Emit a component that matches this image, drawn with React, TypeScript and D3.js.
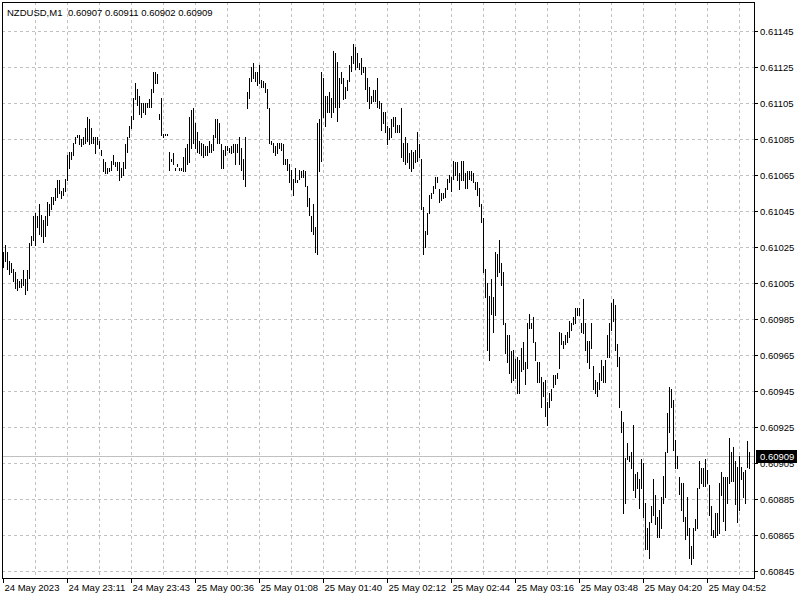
import React from 'react';
import * as d3 from 'd3';

const symbolLabel = 'NZDUSD,M1';
const lastOHLC = [0.60907, 0.60911, 0.60902, 0.60909];

const highs = [
  0.61022, 0.61026, 0.61022, 0.61017, 0.61016, 0.61013, 0.61011, 0.61007, 0.61006, 0.61007,
  0.61012, 0.61007, 0.61012, 0.61027, 0.61031, 0.61042, 0.61044, 0.61042, 0.61049, 0.61043,
  0.61040, 0.61042, 0.61050, 0.61049, 0.61053, 0.61053, 0.61058, 0.61062, 0.61062, 0.61056,
  0.61058, 0.61063, 0.61076, 0.61078, 0.61078, 0.61083, 0.61086, 0.61087, 0.61087, 0.61085,
  0.61086, 0.61091, 0.61097, 0.61096, 0.61091, 0.61086, 0.61086, 0.61086, 0.61084, 0.61079,
  0.61074, 0.61072, 0.61069, 0.61069, 0.61073, 0.61076, 0.61072, 0.61072, 0.61072, 0.61069,
  0.61072, 0.61082, 0.61086, 0.61092, 0.61098, 0.61108, 0.61116, 0.61113, 0.61109, 0.61105,
  0.61105, 0.61105, 0.61105, 0.61107, 0.61113, 0.61122, 0.61122, 0.61121, 0.61099, 0.61108,
  0.61088, 0.61088, 0.61088, 0.61078, 0.61074, 0.61077, 0.61069, 0.61071, 0.61069, 0.61069,
  0.61075, 0.61080, 0.61082, 0.61097, 0.61101, 0.61102, 0.61094, 0.61089, 0.61084, 0.61083,
  0.61082, 0.61081, 0.61081, 0.61084, 0.61082, 0.61087, 0.61096, 0.61096, 0.61094, 0.61082,
  0.61079, 0.61081, 0.61081, 0.61080, 0.61081, 0.61082, 0.61082, 0.61082, 0.61086, 0.61080,
  0.61074, 0.61086, 0.61111, 0.61119, 0.61125, 0.61127, 0.61122, 0.61122, 0.61126, 0.61118,
  0.61117, 0.61116, 0.61113, 0.61102, 0.61084, 0.61083, 0.61081, 0.61083, 0.61083, 0.61083,
  0.61082, 0.61074, 0.61074, 0.61071, 0.61068, 0.61063, 0.61069, 0.61062, 0.61068, 0.61067,
  0.61068, 0.61067, 0.61059, 0.61052, 0.61042, 0.61049, 0.61036, 0.61094, 0.61096, 0.61122,
  0.61119, 0.61109, 0.61109, 0.61111, 0.61108, 0.61134, 0.61133, 0.61128, 0.61119, 0.61122,
  0.61119, 0.61114, 0.61118, 0.61126, 0.61131, 0.61138, 0.61136, 0.61133, 0.61127, 0.61130,
  0.61125, 0.61125, 0.61119, 0.61114, 0.61109, 0.61112, 0.61112, 0.61119, 0.61106, 0.61105,
  0.61100, 0.61100, 0.61092, 0.61091, 0.61096, 0.61097, 0.61097, 0.61093, 0.61093, 0.61102,
  0.61083, 0.61086, 0.61083, 0.61077, 0.61079, 0.61078, 0.61079, 0.61089, 0.61082, 0.61074,
  0.61047, 0.61034, 0.61044, 0.61054, 0.61055, 0.61059, 0.61064, 0.61064, 0.61057, 0.61055,
  0.61055, 0.61058, 0.61063, 0.61065, 0.61064, 0.61073, 0.61072, 0.61072, 0.61066, 0.61073,
  0.61073, 0.61066, 0.61067, 0.61067, 0.61067, 0.61066, 0.61061, 0.61061, 0.61058, 0.61049,
  0.61041, 0.61013, 0.61005, 0.60998, 0.61007, 0.60997, 0.61022, 0.61021, 0.61029, 0.61016,
  0.61011, 0.60983, 0.60976, 0.60976, 0.60967, 0.60968, 0.60963, 0.60964, 0.60962, 0.60969,
  0.60972, 0.60961, 0.60983, 0.60988, 0.60983, 0.60986, 0.60972, 0.60961, 0.60961, 0.60953,
  0.60950, 0.60951, 0.60939, 0.60944, 0.60946, 0.60954, 0.60954, 0.60955, 0.60978, 0.60977,
  0.60973, 0.60976, 0.60978, 0.60984, 0.60983, 0.60986, 0.60991, 0.60991, 0.60991, 0.60983,
  0.60996, 0.60983, 0.60973, 0.60973, 0.60983, 0.60959, 0.60951, 0.60950, 0.60955, 0.60962,
  0.60959, 0.60962, 0.60976, 0.60983, 0.60994, 0.60996, 0.60993, 0.60971, 0.60964, 0.60934,
  0.60928, 0.60908, 0.60916, 0.60909, 0.60911, 0.60926, 0.60899, 0.60900, 0.60896, 0.60907,
  0.60905, 0.60883, 0.60869, 0.60872, 0.60881, 0.60896, 0.60887, 0.60875, 0.60879, 0.60886,
  0.60898, 0.60911, 0.60933, 0.60947, 0.60946, 0.60940, 0.60918, 0.60909, 0.60897, 0.60894,
  0.60894, 0.60875, 0.60886, 0.60869, 0.60859, 0.60869, 0.60874, 0.60891, 0.60906, 0.60902,
  0.60902, 0.60907, 0.60901, 0.60893, 0.60881, 0.60868, 0.60877, 0.60877, 0.60894, 0.60900,
  0.60897, 0.60897, 0.60897, 0.60919, 0.60911, 0.60914, 0.60906, 0.60903, 0.60909, 0.60903,
  0.60900, 0.60901, 0.60917, 0.60911,
];

const lows = [
  0.61014, 0.61017, 0.61013, 0.61010, 0.61011, 0.61006, 0.61002, 0.61001, 0.61003, 0.61003,
  0.61004, 0.60999, 0.61001, 0.61008, 0.61026, 0.61029, 0.61026, 0.61036, 0.61032, 0.61031,
  0.61028, 0.61031, 0.61037, 0.61043, 0.61046, 0.61049, 0.61051, 0.61053, 0.61055, 0.61052,
  0.61054, 0.61056, 0.61062, 0.61069, 0.61074, 0.61076, 0.61083, 0.61086, 0.61082, 0.61081,
  0.61082, 0.61083, 0.61084, 0.61082, 0.61083, 0.61083, 0.61077, 0.61082, 0.61080, 0.61076,
  0.61067, 0.61066, 0.61066, 0.61067, 0.61068, 0.61071, 0.61070, 0.61068, 0.61062, 0.61064,
  0.61065, 0.61069, 0.61078, 0.61086, 0.61091, 0.61096, 0.61107, 0.61104, 0.61099, 0.61097,
  0.61100, 0.61099, 0.61103, 0.61103, 0.61103, 0.61111, 0.61116, 0.61116, 0.61096, 0.61087,
  0.61086, 0.61087, 0.61087, 0.61068, 0.61073, 0.61071, 0.61068, 0.61070, 0.61068, 0.61068,
  0.61067, 0.61067, 0.61071, 0.61072, 0.61080, 0.61083, 0.61080, 0.61078, 0.61077, 0.61076,
  0.61075, 0.61076, 0.61076, 0.61078, 0.61078, 0.61079, 0.61086, 0.61083, 0.61083, 0.61069,
  0.61069, 0.61076, 0.61079, 0.61078, 0.61077, 0.61078, 0.61071, 0.61078, 0.61071, 0.61068,
  0.61063, 0.61059, 0.61102, 0.61108, 0.61117, 0.61119, 0.61117, 0.61115, 0.61116, 0.61114,
  0.61114, 0.61111, 0.61102, 0.61083, 0.61082, 0.61078, 0.61076, 0.61077, 0.61080, 0.61079,
  0.61071, 0.61071, 0.61068, 0.61061, 0.61057, 0.61054, 0.61061, 0.61061, 0.61063, 0.61064,
  0.61064, 0.61059, 0.61048, 0.61043, 0.61034, 0.61032, 0.61022, 0.61021, 0.61067, 0.61073,
  0.61097, 0.61092, 0.61100, 0.61100, 0.61097, 0.61100, 0.61103, 0.61095, 0.61103, 0.61116,
  0.61107, 0.61108, 0.61112, 0.61117, 0.61123, 0.61127, 0.61124, 0.61125, 0.61124, 0.61121,
  0.61122, 0.61113, 0.61106, 0.61102, 0.61105, 0.61106, 0.61106, 0.61103, 0.61102, 0.61090,
  0.61094, 0.61089, 0.61082, 0.61085, 0.61086, 0.61092, 0.61089, 0.61089, 0.61089, 0.61075,
  0.61073, 0.61071, 0.61072, 0.61069, 0.61067, 0.61069, 0.61072, 0.61073, 0.61075, 0.61046,
  0.61021, 0.61025, 0.61032, 0.61044, 0.61052, 0.61055, 0.61058, 0.61061, 0.61050, 0.61051,
  0.61052, 0.61053, 0.61057, 0.61061, 0.61056, 0.61063, 0.61065, 0.61062, 0.61057, 0.61062,
  0.61062, 0.61058, 0.61058, 0.61063, 0.61062, 0.61061, 0.61057, 0.61054, 0.61048, 0.61039,
  0.61011, 0.60997, 0.60968, 0.60962, 0.60988, 0.60978, 0.60987, 0.61009, 0.61011, 0.61004,
  0.60982, 0.60966, 0.60961, 0.60955, 0.60950, 0.60951, 0.60952, 0.60944, 0.60944, 0.60956,
  0.60957, 0.60949, 0.60958, 0.60980, 0.60980, 0.60972, 0.60962, 0.60950, 0.60950, 0.60936,
  0.60942, 0.60931, 0.60926, 0.60936, 0.60940, 0.60947, 0.60949, 0.60952, 0.60958, 0.60971,
  0.60969, 0.60971, 0.60972, 0.60975, 0.60979, 0.60982, 0.60983, 0.60987, 0.60987, 0.60978,
  0.60977, 0.60968, 0.60961, 0.60958, 0.60969, 0.60946, 0.60944, 0.60942, 0.60946, 0.60951,
  0.60950, 0.60950, 0.60964, 0.60964, 0.60979, 0.60984, 0.60968, 0.60959, 0.60936, 0.60922,
  0.60877, 0.60883, 0.60907, 0.60906, 0.60902, 0.60890, 0.60886, 0.60891, 0.60880, 0.60891,
  0.60875, 0.60857, 0.60857, 0.60852, 0.60872, 0.60876, 0.60871, 0.60864, 0.60864, 0.60869,
  0.60883, 0.60886, 0.60911, 0.60922, 0.60936, 0.60912, 0.60902, 0.60902, 0.60888, 0.60879,
  0.60873, 0.60863, 0.60865, 0.60852, 0.60849, 0.60852, 0.60868, 0.60869, 0.60891, 0.60894,
  0.60892, 0.60892, 0.60894, 0.60876, 0.60865, 0.60864, 0.60864, 0.60865, 0.60866, 0.60887,
  0.60873, 0.60868, 0.60883, 0.60894, 0.60895, 0.60895, 0.60882, 0.60872, 0.60879, 0.60896,
  0.60886, 0.60883, 0.60903, 0.60902,
];

const timeTickBars = [0, 32, 64, 96, 128, 160, 192, 224, 256, 288, 320, 352];
const timeLabels = [
  '24 May 2023', '24 May 23:11', '24 May 23:43', '25 May 00:36', '25 May 01:08', '25 May 01:40',
  '25 May 02:12', '25 May 02:44', '25 May 03:16', '25 May 03:48', '25 May 04:20', '25 May 04:52',
];
const priceTicks = [
  0.61145, 0.61125, 0.61105, 0.61085, 0.61065, 0.61045, 0.61025, 0.61005,
  0.60985, 0.60965, 0.60945, 0.60925, 0.60905, 0.60885, 0.60865, 0.60845,
];

const FONT = "'Liberation Sans', Arial, sans-serif";
const FS = 9.5;
const GRID = '#c0c0c0';

export default function App() {
  const n = highs.length;
  const frameL = 2, frameT = 2, frameR = 754, frameB = 578;
  const x = d3.scaleLinear().domain([0, n - 1]).range([3, 749]);
  const y = d3
    .scaleLinear()
    .domain([priceTicks[0], priceTicks[priceTicks.length - 1]])
    .range([31, 571]);
  const px = (i: number) => Math.round(x(i)) + 0.5;
  const py = (v: number) => Math.round(y(v));
  const gridBars = d3.range(16, n, 16);
  const fmt = d3.format('.5f');
  const close = lastOHLC[3];
  const closeY = py(close) + 0.5;

  return (
    <svg width={800} height={600} style={{ display: 'block' }} fontFamily={FONT} fontSize={FS}>
      <style>{'body{margin:0;}'}</style>
      <rect x={0} y={0} width={800} height={600} fill="#ffffff" />
      {gridBars.map((i) => (
        <line key={'vg' + i} x1={px(i)} x2={px(i)} y1={frameT} y2={frameB}
          stroke={GRID} strokeWidth={1} strokeDasharray="3,3" />
      ))}
      {priceTicks.map((p) => (
        <line key={'hg' + p} x1={frameL} x2={frameR} y1={py(p) + 0.5} y2={py(p) + 0.5}
          stroke={GRID} strokeWidth={1} strokeDasharray="3,3" />
      ))}
      <line x1={frameL} x2={frameR} y1={closeY} y2={closeY} stroke={GRID} strokeWidth={1} />
      {highs.map((h, i) => (
        <line key={'b' + i} x1={px(i)} x2={px(i)} y1={py(h)} y2={py(lows[i]) + 1}
          stroke="#000" strokeWidth={1} />
      ))}
      <rect x={frameL + 0.5} y={frameT + 0.5} width={frameR - frameL} height={frameB - frameT}
        fill="none" stroke="#000" strokeWidth={1} />
      <text x={7} y={16} fill="#000">{symbolLabel}</text>
      <text x={68} y={16} fill="#000">{lastOHLC.map(fmt).join(' ')}</text>
      {priceTicks.map((p) => (
        <g key={'pt' + p}>
          <line x1={frameR} x2={frameR + 4} y1={py(p) + 0.5} y2={py(p) + 0.5} stroke="#000" />
          <text x={760} y={py(p) + 4} fill="#000">{fmt(p)}</text>
        </g>
      ))}
      <rect x={756} y={closeY - 6.5} width={41} height={13} fill="#000" />
      <text x={760} y={closeY + 3.5} fill="#fff">{fmt(close)}</text>
      {timeTickBars.map((b, k) => (
        <g key={'tt' + b}>
          <line x1={px(b)} x2={px(b)} y1={frameB} y2={frameB + 5} stroke="#000" />
          <text x={px(b) + 1} y={591} fill="#000">{timeLabels[k]}</text>
        </g>
      ))}
    </svg>
  );
}
